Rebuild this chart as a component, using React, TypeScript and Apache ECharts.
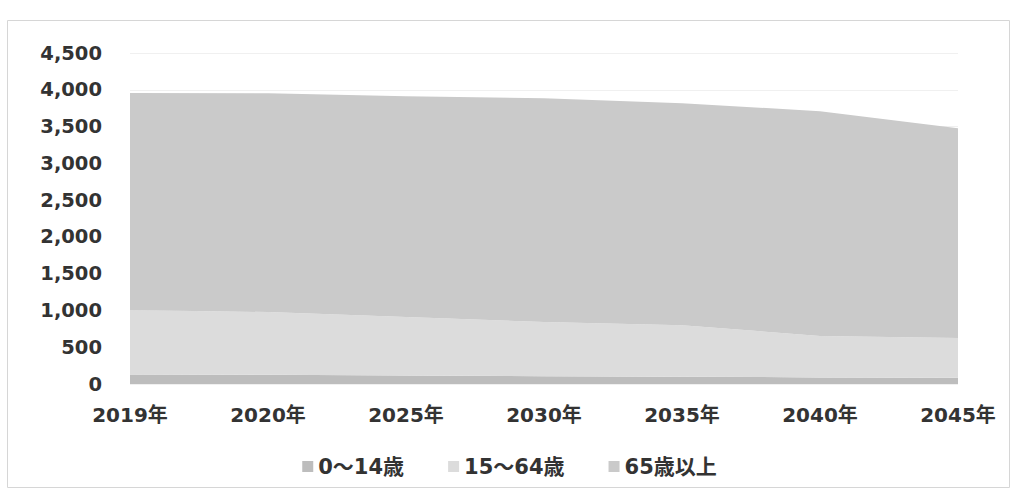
import React, { useEffect, useRef } from "react";
import * as echarts from "echarts";

const years = ["2019年", "2020年", "2025年", "2030年", "2035年", "2040年", "2045年"];
const age0to14 = [130, 125, 115, 105, 100, 90, 85];
const age15to64 = [875, 853, 795, 737, 700, 562, 540];
const age65plus = [2950, 2975, 3003, 3044, 3018, 3057, 2853];
const seriesNames = ["0〜14歳", "15〜64歳", "65歳以上"];

const FONT = "'DejaVu Sans', 'Noto Sans CJK JP', sans-serif";

export default function App() {
  const ref = useRef<HTMLDivElement>(null);
  useEffect(() => {
    if (!ref.current) return;
    const chart = echarts.init(ref.current, null, { renderer: "svg" });
    const mk = (name: string, data: number[], color: string) => ({
      name,
      type: "line",
      stack: "total",
      data,
      symbol: "none",
      lineStyle: { width: 0 },
      areaStyle: { color, opacity: 1 },
      itemStyle: { color },
    });
    chart.setOption({
      animation: false,
      backgroundColor: "#ffffff",
      graphic: [
        {
          type: "rect",
          shape: { x: 7.5, y: 20.5, width: 1002, height: 467 },
          style: { fill: "none", stroke: "#d6d6d6", lineWidth: 1 },
          silent: true,
        },
      ],
      grid: { left: 130, right: 61, top: 53, bottom: 111 },
      legend: {
        data: seriesNames,
        left: "center",
        top: 451,
        itemWidth: 11,
        itemHeight: 11,
        itemGap: 44,
        icon: "rect",
        textStyle: { fontFamily: FONT, fontWeight: "bold", fontSize: 21, color: "#333333" },
      },
      xAxis: {
        type: "category",
        data: years,
        boundaryGap: false,
        axisLine: { show: false },
        axisTick: { show: false },
        axisLabel: {
          margin: 21,
          fontFamily: FONT,
          fontWeight: "bold",
          fontSize: 20,
          color: "#333333",
        },
      },
      yAxis: {
        type: "value",
        min: 0,
        max: 4500,
        interval: 500,
        axisLine: { show: false },
        axisTick: { show: false },
        splitLine: { lineStyle: { color: "#f0f0f0" } },
        axisLabel: {
          margin: 28,
          fontFamily: FONT,
          fontWeight: "bold",
          fontSize: 19.5,
          color: "#333333",
          formatter: (v: number) => v.toLocaleString("en-US"),
        },
      },
      series: [
        mk(seriesNames[0], age0to14, "#bdbdbd"),
        mk(seriesNames[1], age15to64, "#dcdcdc"),
        mk(seriesNames[2], age65plus, "#cacaca"),
      ],
    });
    return () => chart.dispose();
  }, []);
  return (
    <div
      ref={ref}
      style={{ position: "absolute", left: 0, top: 0, width: 1019, height: 495 }}
    />
  );
}
